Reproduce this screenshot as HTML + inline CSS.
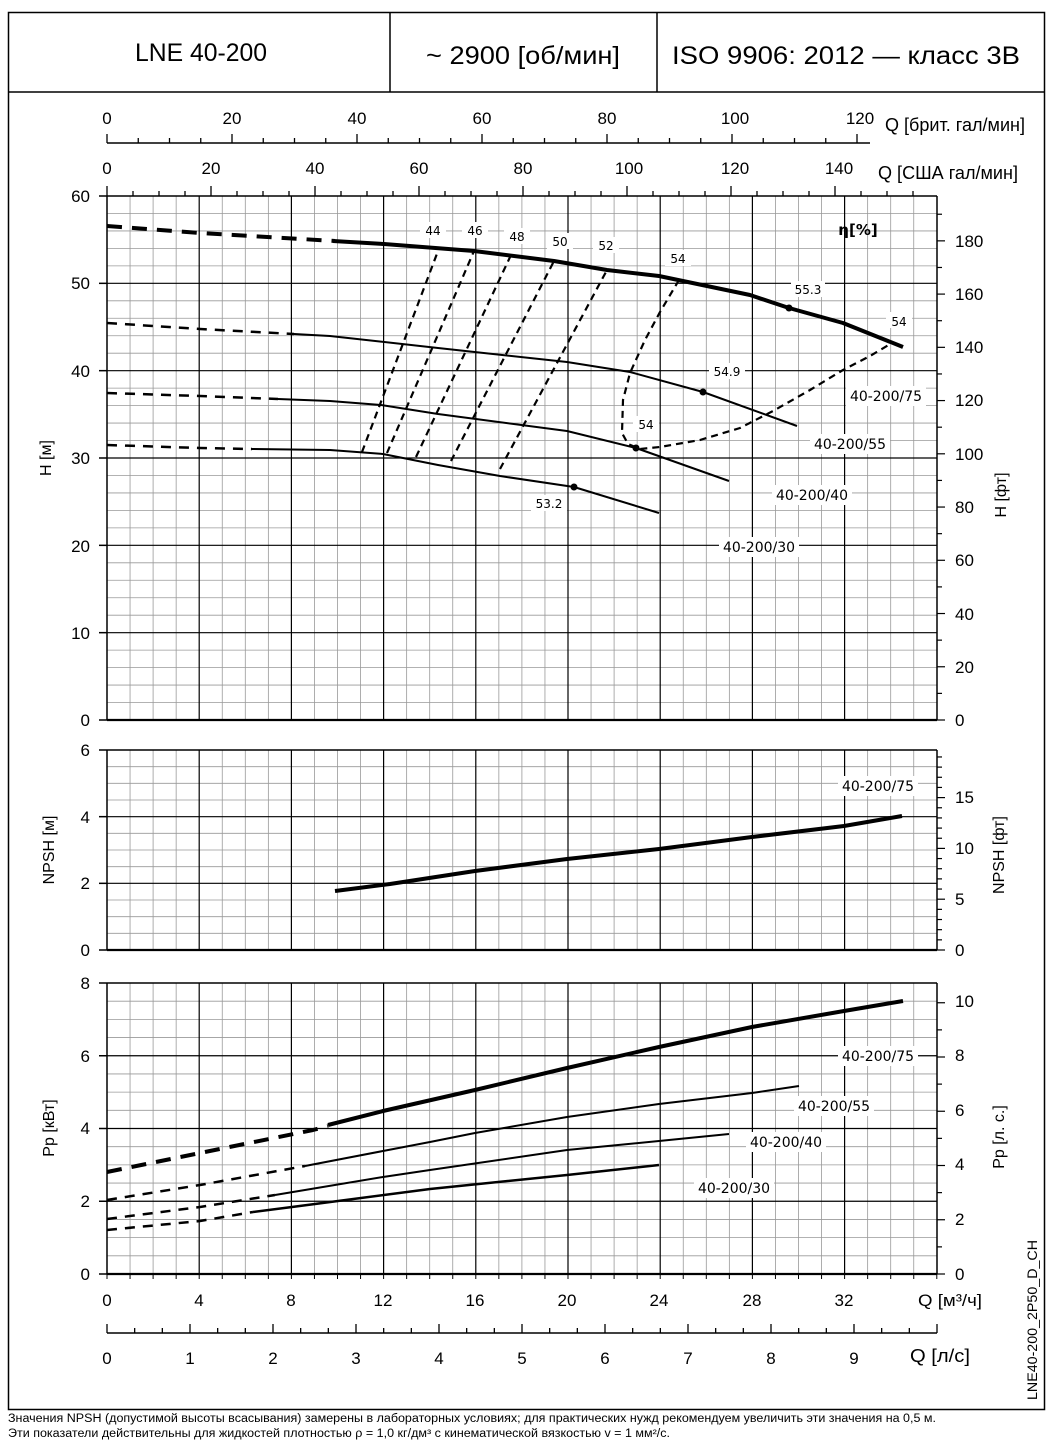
<!DOCTYPE html>
<html><head><meta charset="utf-8"><style>
html,body{margin:0;padding:0;background:#fff}
svg{display:block;font-family:"Liberation Sans",sans-serif}
.lbl{font-family:"DejaVu Sans","Liberation Sans",sans-serif;font-size:12px}
</style></head><body>
<svg id="s" width="1064" height="1450" viewBox="0 0 1064 1450" xmlns="http://www.w3.org/2000/svg">
<rect x="0" y="0" width="1064" height="1450" fill="#fff"/>
<g id="grid"></g>
<rect x="8.5" y="12.5" width="1036" height="1397" fill="none" stroke="#000" stroke-width="1.5"/>
<line x1="8" y1="92" x2="1045" y2="92" stroke="#000" stroke-width="1.5"/>
<line x1="390" y1="12" x2="390" y2="92" stroke="#000" stroke-width="1.5"/>
<line x1="657" y1="12" x2="657" y2="92" stroke="#000" stroke-width="1.5"/>
<g font-size="25">
<text x="135" y="61" textLength="132" lengthAdjust="spacingAndGlyphs">LNE 40-200</text>
<text x="426" y="64" textLength="194" lengthAdjust="spacingAndGlyphs">~ 2900 [об/мин]</text>
<text x="672" y="64" textLength="348" lengthAdjust="spacingAndGlyphs">ISO 9906: 2012 — класс 3B</text>
</g>

<g font-size="17" text-anchor="middle">
<text x="107" y="124">0</text><text x="232" y="124">20</text><text x="357" y="124">40</text><text x="482" y="124">60</text><text x="607" y="124">80</text><text x="735" y="124">100</text><text x="860" y="124">120</text>
<text x="107" y="174">0</text><text x="211" y="174">20</text><text x="315" y="174">40</text><text x="419" y="174">60</text><text x="523" y="174">80</text><text x="629" y="174">100</text><text x="735" y="174">120</text><text x="839" y="174">140</text>
</g>
<g font-size="18">
<text x="885" y="131" textLength="140" lengthAdjust="spacingAndGlyphs">Q [брит. гал/мин]</text>
<text x="878" y="179" textLength="140" lengthAdjust="spacingAndGlyphs">Q [США гал/мин]</text>
</g>

<g font-size="17" text-anchor="end">
<text x="90" y="202">60</text><text x="90" y="289">50</text><text x="90" y="377">40</text><text x="90" y="464">30</text><text x="90" y="552">20</text><text x="90" y="639">10</text><text x="90" y="726">0</text>
<text x="90" y="756">6</text><text x="90" y="823">4</text><text x="90" y="889">2</text><text x="90" y="956">0</text>
<text x="90" y="989">8</text><text x="90" y="1062">6</text><text x="90" y="1134">4</text><text x="90" y="1207">2</text><text x="90" y="1280">0</text>
</g>
<g font-size="17">
<text x="955" y="247">180</text><text x="955" y="300">160</text><text x="955" y="353">140</text><text x="955" y="406">120</text><text x="955" y="460">100</text><text x="955" y="513">80</text><text x="955" y="566">60</text><text x="955" y="620">40</text><text x="955" y="673">20</text><text x="955" y="726">0</text>
<text x="955" y="803">15</text><text x="955" y="854">10</text><text x="955" y="905">5</text><text x="955" y="956">0</text>
<text x="955" y="1007">10</text><text x="955" y="1061">8</text><text x="955" y="1116">6</text><text x="955" y="1170">4</text><text x="955" y="1225">2</text><text x="955" y="1280">0</text>
</g>
<g font-size="16" text-anchor="middle">
<text transform="translate(51,458) rotate(-90)">H [м]</text>
<text transform="translate(54,850) rotate(-90)">NPSH [м]</text>
<text transform="translate(54,1128) rotate(-90)">Pp [кВт]</text>
<text transform="translate(1006,495) rotate(-90)">H [фт]</text>
<text transform="translate(1004,855) rotate(-90)">NPSH [фт]</text>
<text transform="translate(1004,1137) rotate(-90)">Pp [л. с.]</text>
</g>

<g font-size="17" text-anchor="middle">
<text x="107" y="1306">0</text><text x="199" y="1306">4</text><text x="291" y="1306">8</text><text x="383" y="1306">12</text><text x="475" y="1306">16</text><text x="567" y="1306">20</text><text x="659" y="1306">24</text><text x="752" y="1306">28</text><text x="844" y="1306">32</text>
<text x="107" y="1364">0</text><text x="190" y="1364">1</text><text x="273" y="1364">2</text><text x="356" y="1364">3</text><text x="439" y="1364">4</text><text x="522" y="1364">5</text><text x="605" y="1364">6</text><text x="688" y="1364">7</text><text x="771" y="1364">8</text><text x="854" y="1364">9</text>
</g>
<text x="918" y="1306" font-size="17" textLength="64" lengthAdjust="spacingAndGlyphs">Q [м³/ч]</text>
<text x="910" y="1362" font-size="18" textLength="60" lengthAdjust="spacingAndGlyphs">Q [л/с]</text>
<text transform="translate(1037,1400) rotate(-90)" font-size="14" textLength="160" lengthAdjust="spacingAndGlyphs">LNE40-200_2P50_D_CH</text>
<g font-size="11.5">
<text x="8" y="1422" textLength="928" lengthAdjust="spacingAndGlyphs">Значения NPSH (допустимой высоты всасывания) замерены в лабораторных условиях; для практических нужд рекомендуем увеличить эти значения на 0,5 м.</text>
<text x="8" y="1437" textLength="662" lengthAdjust="spacingAndGlyphs">Эти показатели действительны для жидкостей плотностью ρ = 1,0 кг/дм³ с кинематической вязкостью v = 1 мм²/с.</text>
</g>

<g fill="none" stroke="#000" stroke-linejoin="round" stroke-linecap="butt">
<polyline points="107,226 200,233 335,241" stroke-width="4" stroke-dasharray="15,10"/>
<polyline points="333,241 384,244 474,251 554,261 607,270 659,276 750,295 789,308 843,323 903,347" stroke-width="4"/>
<polyline points="107,323 200,329 294,334" stroke-width="2.5" stroke-dasharray="10,8"/>
<polyline points="294,334 330,336 438,348 567,362 630,372 703,392 797,426" stroke-width="2"/>
<polyline points="107,393 200,396 278,399" stroke-width="2.5" stroke-dasharray="10,8"/>
<polyline points="278,399 330,401 381,405 438,414 567,431 636,448 729,481" stroke-width="2"/>
<polyline points="107,445 200,448 252,449" stroke-width="2.5" stroke-dasharray="10,8"/>
<polyline points="252,449 330,450 383,454 438,465 500,476 574,487 659,513" stroke-width="2"/>
<g stroke-width="2.2" stroke-dasharray="7,5">
<line x1="362" y1="452" x2="438" y2="251"/>
<line x1="387" y1="453" x2="474" y2="251"/>
<line x1="416" y1="457" x2="511" y2="255"/>
<line x1="451" y1="461" x2="554" y2="261"/>
<line x1="500" y1="469" x2="607" y2="270"/>
<polyline points="679,280 660,312 645,340 630,373 623,400 622,433 628,444 640,449 660,447 700,440 740,428 773,411 810,390 843,370 870,356 892,343"/>
</g>
</g>
<g fill="#000"><circle cx="789" cy="308" r="3.5"/><circle cx="703" cy="392" r="3.5"/><circle cx="636" cy="448" r="3.5"/><circle cx="574" cy="487" r="3.5"/></g>
<g class="lbl" text-anchor="middle">
<g fill="#fff"><rect x="420" y="222" width="26" height="16"/><rect x="462" y="222" width="26" height="16"/><rect x="504" y="228" width="26" height="16"/><rect x="547" y="233" width="26" height="16"/><rect x="593" y="237" width="26" height="16"/><rect x="665" y="250" width="26" height="16"/><rect x="791" y="281" width="34" height="16"/><rect x="886" y="312" width="26" height="16"/><rect x="709" y="363" width="36" height="16"/><rect x="633" y="416" width="26" height="16"/><rect x="531" y="495" width="36" height="16"/>
<rect x="846" y="386" width="80" height="20"/><rect x="810" y="434" width="80" height="20"/><rect x="772" y="485" width="80" height="20"/><rect x="719" y="537" width="80" height="20"/><rect x="838" y="776" width="80" height="20"/><rect x="838" y="1046" width="80" height="20"/><rect x="794" y="1096" width="80" height="20"/><rect x="746" y="1132" width="80" height="20"/><rect x="694" y="1178" width="80" height="20"/></g>
<text x="433" y="235">44</text><text x="475" y="235">46</text><text x="517" y="241">48</text><text x="560" y="246">50</text><text x="606" y="250">52</text><text x="678" y="263">54</text><text x="808" y="294">55.3</text><text x="899" y="326">54</text><text x="727" y="376">54.9</text><text x="646" y="429">54</text><text x="549" y="508">53.2</text>
<text x="886" y="401" font-size="14">40-200/75</text><text x="850" y="449" font-size="14">40-200/55</text><text x="812" y="500" font-size="14">40-200/40</text><text x="759" y="552" font-size="14">40-200/30</text>
<text x="878" y="791" font-size="14">40-200/75</text>
<text x="878" y="1061" font-size="14">40-200/75</text><text x="834" y="1111" font-size="14">40-200/55</text><text x="786" y="1147" font-size="14">40-200/40</text><text x="734" y="1193" font-size="14">40-200/30</text>
</g>
<text x="858" y="235" font-size="15" font-weight="bold" text-anchor="middle" font-family="DejaVu Sans,sans-serif">η[%]</text>

<polyline points="335,891 390,884 475,871 567,859 659,849 752,837 844,826 902,816" fill="none" stroke="#000" stroke-width="4"/>

<g fill="none" stroke="#000" stroke-linejoin="round">
<polyline points="107,1172 200,1153 313,1130 328,1126" stroke-width="4" stroke-dasharray="15,10"/>
<polyline points="328,1125 383,1111 475,1090 567,1068 659,1047 752,1027 844,1011 903,1001" stroke-width="4"/>
<polyline points="107,1200 200,1185 305,1166" stroke-width="2.5" stroke-dasharray="10,8"/>
<polyline points="305,1166 383,1151 430,1142 475,1133 567,1117 659,1104 752,1093 799,1086" stroke-width="2"/>
<polyline points="107,1219 200,1207 275,1195" stroke-width="2.5" stroke-dasharray="10,8"/>
<polyline points="275,1195 383,1177 430,1170 567,1150 659,1141 729,1134" stroke-width="2"/>
<polyline points="107,1230 200,1221 253,1212" stroke-width="2.5" stroke-dasharray="10,8"/>
<polyline points="253,1212 292,1207 430,1189 567,1175 659,1165" stroke-width="2.5"/>
</g>
</svg>
<script>
(function(){
var g=document.getElementById('grid'),NS='http://www.w3.org/2000/svg';
function L(x1,y1,x2,y2,c,w){var l=document.createElementNS(NS,'line');l.setAttribute('x1',x1);l.setAttribute('y1',y1);l.setAttribute('x2',x2);l.setAttribute('y2',y2);l.setAttribute('stroke',c);l.setAttribute('stroke-width',w);g.appendChild(l);}
var X0=107,XS=23.05,XR=937;
function chart(yt,yb,vmax,minor,major,rt){
 var ps=(yb-yt)/vmax;
 for(var q=1;q<36;q++){if(q%4)L(X0+q*XS,yt,X0+q*XS,yb,'#999',0.8);}
 for(var v=minor;v<vmax-1e-6;v+=minor){var y=yb-v*ps;if(Math.abs(v/major-Math.round(v/major))>1e-6)L(X0,y,XR,y,'#999',0.8);}
 for(var q=4;q<36;q+=4)L(X0+q*XS,yt,X0+q*XS,yb,'#000',1.2);
 for(var v=major;v<vmax-1e-6;v+=major){var y=yb-v*ps;L(X0,y,XR,y,'#000',1.2);}
 for(var v=0;v<=vmax+1e-6;v+=major){var y=yb-v*ps;L(99,y,X0,y,'#000',1.5);}
 L(X0,yt,XR,yt,'#000',1.5);L(X0,yb,XR,yb,'#000',2.2);L(X0,yt,X0,yb,'#000',1.5);L(XR,yt,XR,yb,'#000',1.5);
 var r=rt; for(var v=0;v<=r.max+1e-6;v+=r.minor){var y=yb-v*r.ps;if(y<yt-0.5)break;var mj=Math.abs(v/r.major-Math.round(v/r.major))<1e-6;L(XR,y,XR+(mj?8:5),y,'#000',1.2);}
}
chart(196,720,60,2,10,{max:195,minor:10,major:20,ps:524/196.85});
chart(750,950,6,0.5,2,{max:19,minor:1,major:5,ps:200/19.685});
chart(983,1274,8,0.5,2,{max:10.7,minor:1,major:2,ps:291/10.728});
L(107,143,870,143,'#000',1.5);
for(var i=0;i<=24;i++){var x=107+i*31.25;if(x>870)break;L(x,143,x,i%4?138:134,'#000',1.3);}
for(var i=0;i<=31;i++){var x=107+i*26;if(x>920)break;L(x,196,x,i%4?191:186,'#000',1.3);}
L(107,1333,937,1333,'#000',1.5);
for(var i=0;i<=30;i++){var x=107+i*83/3;if(x>938)break;L(x,1333,x,i%3?1328:1324,'#000',1.3);}
for(var q=0;q<=36;q++){L(X0+q*XS,1274,X0+q*XS,1279,'#000',1);}
})();
</script>
</body></html>
